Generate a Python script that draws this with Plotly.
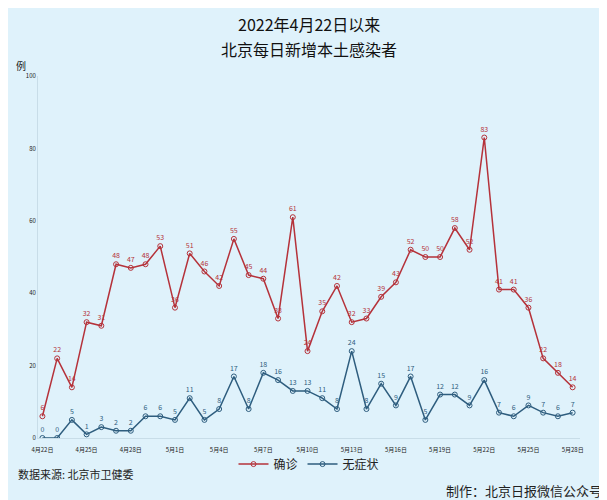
import plotly.graph_objects as go
import datetime as dt

start = dt.date(2022, 4, 22)
dates = [start + dt.timedelta(days=i) for i in range(37)]
labels = [f"{d.month}月{d.day}日" for d in dates]
confirmed = [6,22,14,32,31,48,47,48,53,36,51,46,42,55,45,44,33,61,24,35,42,32,33,39,43,52,50,50,58,52,83,41,41,36,22,18,14]
asym = [0,0,5,1,3,2,2,6,6,5,11,5,8,17,8,18,16,13,13,11,8,24,8,15,9,17,5,12,12,9,16,7,6,9,7,6,7]

font = "Noto Sans CJK SC"
fig = go.Figure()
fig.add_trace(go.Scatter(x=labels, y=confirmed, name="确诊", mode="lines+markers+text",
    line=dict(color="#b5323a", width=1.5), marker=dict(symbol="circle-open", size=5, color="#b5323a"),
    text=[str(v) for v in confirmed], textposition="top center", textfont=dict(size=7, color="#b5323a")))
fig.add_trace(go.Scatter(x=labels, y=asym, name="无症状", mode="lines+markers+text",
    line=dict(color="#2e5d7e", width=1.5), marker=dict(symbol="circle-open", size=5, color="#2e5d7e"),
    text=[str(v) for v in asym], textposition="top center", textfont=dict(size=7, color="#2e5d7e")))
fig.update_layout(
    width=607, height=500, paper_bgcolor="#dff2fb", plot_bgcolor="#dff2fb",
    font=dict(family=font, color="#222"),
    margin=dict(l=30, r=35, t=68, b=70),
    showlegend=True,
    legend=dict(orientation="h", x=0.5, xanchor="center", y=-0.072, yanchor="middle",
                font=dict(size=12), itemwidth=30, bgcolor="rgba(0,0,0,0)"),
    xaxis=dict(tickmode="array", tickvals=labels[::3], ticktext=labels[::3], tickfont=dict(size=6),
               showgrid=False, linecolor="#c8dde8", showline=True, range=[-0.3, 36.5], automargin=False,
               ticklen=6, tickcolor="rgba(0,0,0,0)", ticks="outside"),
    yaxis=dict(range=[0, 100], dtick=20, tickfont=dict(size=6), showgrid=False, zeroline=False,
               showline=True, linecolor="#c8dde8", automargin=False),
)
fig.add_annotation(text="2022年4月22日以来", xref="paper", yref="paper", x=0.5, y=1.145, showarrow=False,
                   font=dict(size=16, color="#111"), yanchor="middle")
fig.add_annotation(text="北京每日新增本土感染者", xref="paper", yref="paper", x=0.5, y=1.075, showarrow=False,
                   font=dict(size=16, color="#111"), yanchor="middle")
fig.add_annotation(text="例", xref="paper", yref="paper", x=-0.045, y=1.03, showarrow=False,
                   font=dict(size=10), xanchor="left", yanchor="middle")
fig.add_annotation(text="数据来源: 北京市卫健委", xref="paper", yref="paper", x=-0.04, y=-0.1,
                   showarrow=False, xanchor="left", yanchor="middle", font=dict(size=11))
fig.add_annotation(text="制作：北京日报微信公众号", xref="paper", yref="paper", x=1.045, y=-0.145,
                   showarrow=False, xanchor="right", yanchor="middle", font=dict(size=13))
fig.write_html("out.html")
